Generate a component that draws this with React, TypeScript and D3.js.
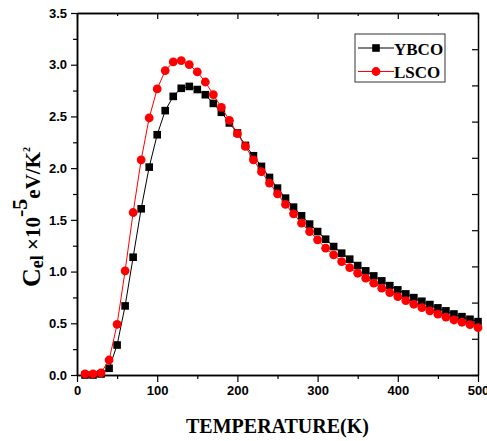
import React, { useEffect, useRef } from 'react'
import * as d3 from 'd3'

const temps = d3.range(10, 501, 10)

const ybco = [
  0.0, 0.0, 0.01, 0.065, 0.29, 0.668, 1.139, 1.607, 2.01, 2.323,
  2.556, 2.694, 2.772, 2.79, 2.76, 2.71, 2.626, 2.54, 2.437, 2.34,
  2.22, 2.12, 2.017, 1.91, 1.807, 1.71, 1.623, 1.539, 1.459, 1.387,
  1.313, 1.242, 1.178, 1.12, 1.058, 1.007, 0.958, 0.91, 0.864, 0.823,
  0.784, 0.748, 0.713, 0.681, 0.649, 0.62, 0.59, 0.564, 0.539, 0.516,
]

const lsco = [
  0.01, 0.01, 0.02, 0.145, 0.49, 1.007, 1.571, 2.08, 2.485, 2.766,
  2.943, 3.027, 3.04, 3.0, 2.93, 2.833, 2.71, 2.588, 2.462, 2.333,
  2.21, 2.08, 1.965, 1.856, 1.752, 1.649, 1.558, 1.468, 1.387, 1.307,
  1.226, 1.162, 1.097, 1.039, 0.984, 0.936, 0.888, 0.839, 0.797, 0.758,
  0.719, 0.684, 0.652, 0.62, 0.588, 0.559, 0.532, 0.51, 0.487, 0.458,
]

const xMajor = [0, 100, 200, 300, 400, 500]
const xMinor = [50, 150, 250, 350, 450]
const yMajor = [0, 0.5, 1.0, 1.5, 2.0, 2.5, 3.0, 3.5]
const yMinor = [0.25, 0.75, 1.25, 1.75, 2.25, 2.75, 3.25]
const rightTicks = d3.range(0, 11)

const W = 487
const H = 441
const margin = { top: 13, right: 9, bottom: 66, left: 77 }

const App = () => {
  const ref = useRef<SVGSVGElement>(null)

  useEffect(() => {
    const root = d3.select(ref.current)
    root.selectAll('*').remove()

    const width = W - margin.left - margin.right
    const height = H - margin.top - margin.bottom

    const x = d3.scaleLinear().domain([0, 500]).range([0, width])
    const y = d3.scaleLinear().domain([0, 3.5]).range([height, 0])
    const yRight = d3.scaleLinear().domain([0, 10]).range([height, 0])

    const svg = root
      .append('g')
      .attr('transform', `translate(${margin.left}, ${margin.top})`)

    const tickFont = (g: any) =>
      g
        .selectAll('text')
        .attr('font-family', 'Liberation Sans, Arial, sans-serif')
        .attr('font-weight', 'bold')
        .attr('font-size', 13)
        .attr('fill', '#000')

    const styleAxis = (g: any) => {
      g.select('.domain').attr('stroke', '#000').attr('stroke-width', 1.5)
      g.selectAll('.tick line').attr('stroke', '#000').attr('stroke-width', 1.2)
    }

    // bottom axis
    svg
      .append('g')
      .attr('transform', `translate(0, ${height})`)
      .call(d3.axisBottom(x).tickValues(xMajor).tickSize(7).tickSizeOuter(0).tickPadding(4))
      .call(styleAxis)
      .call(tickFont)
    svg
      .append('g')
      .attr('transform', `translate(0, ${height})`)
      .call(d3.axisBottom(x).tickValues(xMinor).tickSize(4).tickSizeOuter(0).tickFormat(() => ''))
      .call(styleAxis)

    // top axis (ticks inward)
    svg
      .append('g')
      .call(d3.axisBottom(x).tickValues(xMajor).tickSize(6).tickSizeOuter(0).tickFormat(() => ''))
      .call(styleAxis)
    svg
      .append('g')
      .call(d3.axisBottom(x).tickValues(xMinor).tickSize(3).tickSizeOuter(0).tickFormat(() => ''))
      .call(styleAxis)

    // left axis
    svg
      .append('g')
      .call(d3.axisLeft(y).tickValues(yMajor).tickSize(6).tickSizeOuter(0).tickPadding(4).tickFormat(d3.format('.1f')))
      .call(styleAxis)
      .call(tickFont)
    svg
      .append('g')
      .call(d3.axisLeft(y).tickValues(yMinor).tickSize(4).tickSizeOuter(0).tickFormat(() => ''))
      .call(styleAxis)

    // right axis (ticks inward)
    svg
      .append('g')
      .attr('transform', `translate(${width}, 0)`)
      .call(d3.axisLeft(yRight).tickValues(rightTicks).tickSize(6).tickSizeOuter(0).tickFormat(() => ''))
      .call(styleAxis)

    const series = [
      { name: 'YBCO', values: ybco, color: '#000000', shape: 'square' },
      { name: 'LSCO', values: lsco, color: '#ff0000', shape: 'circle' },
    ]

    const line = d3
      .line<number>()
      .x((d, i) => x(temps[i]))
      .y(d => y(d))

    series.forEach(s => {
      const g = svg.append('g')
      g.append('path')
        .datum(s.values)
        .attr('fill', 'none')
        .attr('stroke', s.color)
        .attr('stroke-width', 1)
        .attr('d', line)

      if (s.shape === 'square') {
        g.selectAll('rect')
          .data(s.values)
          .join('rect')
          .attr('x', (d, i) => x(temps[i]) - 3.8)
          .attr('y', d => y(d) - 3.8)
          .attr('width', 7.6)
          .attr('height', 7.6)
          .attr('fill', s.color)
      } else {
        g.selectAll('circle')
          .data(s.values)
          .join('circle')
          .attr('cx', (d, i) => x(temps[i]))
          .attr('cy', d => y(d))
          .attr('r', 4.4)
          .attr('fill', s.color)
      }
    })

    // legend
    const lg = root.append('g').attr('transform', 'translate(355, 34)')
    lg.append('rect')
      .attr('width', 90)
      .attr('height', 48)
      .attr('fill', '#fff')
      .attr('stroke', '#333')
      .attr('stroke-width', 1)
    series.forEach((s, i) => {
      const cy = 14 + i * 23.5
      lg.append('line')
        .attr('x1', 3)
        .attr('x2', 39)
        .attr('y1', cy)
        .attr('y2', cy)
        .attr('stroke', s.color)
        .attr('stroke-width', 1)
      if (s.shape === 'square') {
        lg.append('rect').attr('x', 21 - 3.8).attr('y', cy - 3.8).attr('width', 7.6).attr('height', 7.6).attr('fill', s.color)
      } else {
        lg.append('circle').attr('cx', 21).attr('cy', cy).attr('r', 4.4).attr('fill', s.color)
      }
      lg.append('text')
        .attr('x', 39)
        .attr('y', cy + 6.5)
        .attr('font-family', 'Liberation Serif, Times New Roman, serif')
        .attr('font-weight', 'bold')
        .attr('font-size', 17)
        .attr('fill', '#000')
        .text(s.name)
    })

    // x title
    root
      .append('text')
      .attr('x', margin.left + width / 2)
      .attr('y', 433)
      .attr('text-anchor', 'middle')
      .attr('font-family', 'Liberation Serif, Times New Roman, serif')
      .attr('font-weight', 'bold')
      .attr('font-size', 20)
      .attr('fill', '#000')
      .text('TEMPERATURE(K)')

    // y title
    const yt = root
      .append('text')
      .attr('transform', 'rotate(-90)')
      .attr('x', -287)
      .attr('y', 40)
      .attr('font-family', 'Liberation Serif, Times New Roman, serif')
      .attr('font-weight', 'bold')
      .attr('fill', '#000')
    yt.append('tspan').attr('font-size', 26).text('C')
    yt.append('tspan').attr('font-size', 18).attr('dy', 3).text('el')
    yt.append('tspan').attr('font-size', 21).attr('dy', -3).text(' ×10')
    yt.append('tspan').attr('font-size', 22).attr('dy', -13).text('-5')
    yt.append('tspan').attr('font-size', 21).attr('dy', 13).text('eV/K')
    yt.append('tspan').attr('font-size', 10).attr('dy', -10).text('2')
  }, [])

  return (
    <svg
      ref={ref}
      width={W}
      height={H}
      style={{ position: 'absolute', left: 0, top: 0, background: '#fff' }}
    />
  )
}

export default App
